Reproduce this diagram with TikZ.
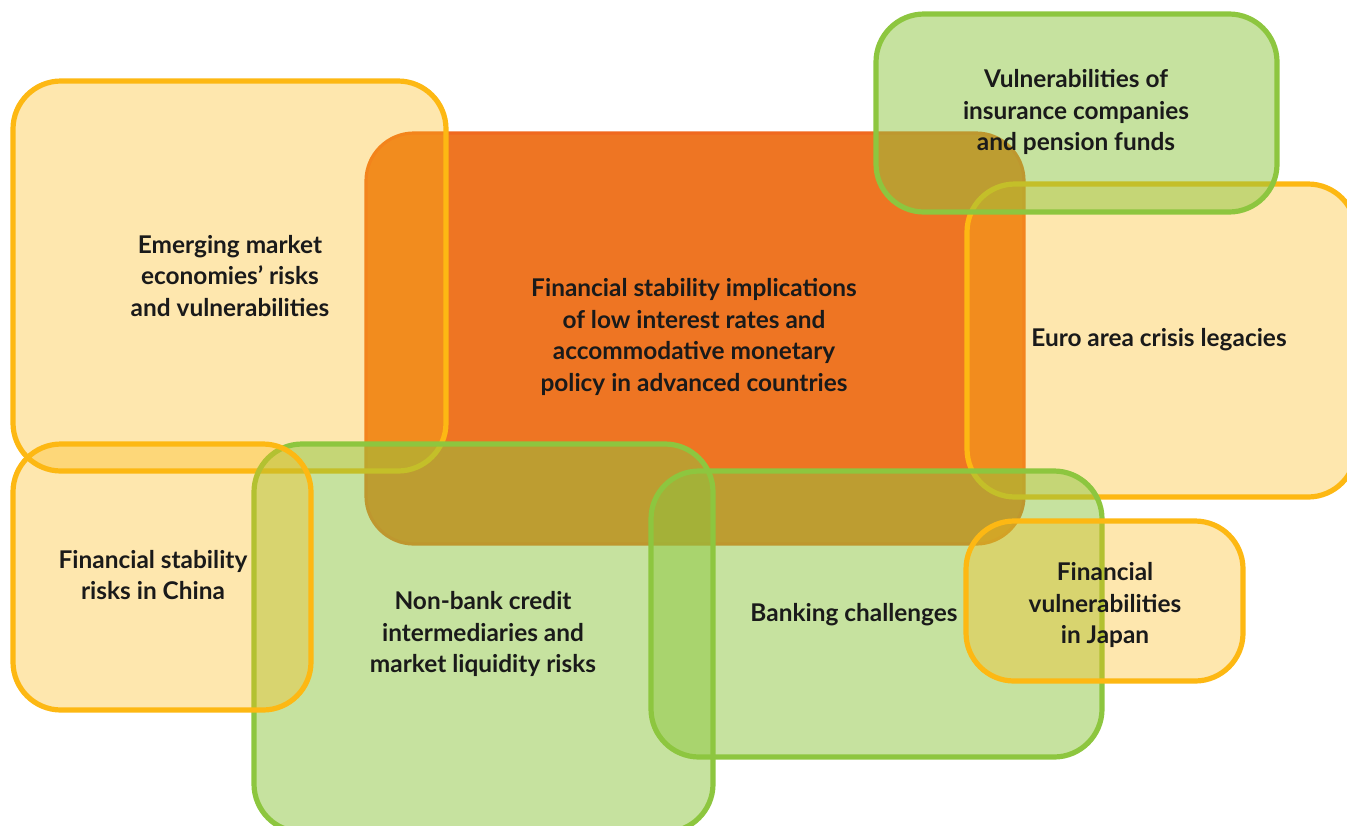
\documentclass[tikz,border=0pt]{standalone}
\usepackage{fontspec}
\setmainfont{Lato}
\definecolor{orangefill}{HTML}{EE7523}
\definecolor{orangeline}{HTML}{F0681F}
\definecolor{yel}{HTML}{FBB917}
\definecolor{yelline}{HTML}{FDB813}
\definecolor{grn}{HTML}{8DC63F}
\definecolor{txt}{HTML}{1A1A1A}
\tikzset{
  ybox/.style={fill=yel, fill opacity=0.35, draw=yelline, draw opacity=1, line width=2.6pt, rounded corners=24pt},
  gbox/.style={fill=grn, fill opacity=0.5, draw=grn, draw opacity=1, line width=2.6pt, rounded corners=24pt},
  obox/.style={fill=orangefill, draw=orangeline, line width=1.6pt, rounded corners=24pt},
  lbl/.style={align=center, text=txt, font=\bfseries\fontsize{12.2}{15.7}\selectfont, inner sep=0pt},
}
\begin{document}
\begin{tikzpicture}[x=0.5pt, y=-0.5pt]
\useasboundingbox (0,0) rectangle (1347,825);
\begin{scope}
\clip (0,0) rectangle (1347,825);
% central orange
\draw[obox] (366,133) rectangle (1024,544);
% emerging markets
\draw[ybox] (13,81) rectangle (446,471);
% non-bank
\draw[gbox] (254,444) rectangle (713,832);
% china
\draw[ybox] (13,444) rectangle (311,710);
% euro area
\draw[ybox] (967,184) rectangle (1356,497);
% insurance
\draw[gbox] (876,14) rectangle (1277,212);
% banking
\draw[gbox] (651,471) rectangle (1102,757);
% japan
\draw[ybox] (966,521) rectangle (1243,681);
\end{scope}
\node[lbl] (central) at (694,337) {Financial stability implications\\of low interest rates and\\accommodative monetary\\policy in advanced countries};
\node[lbl] (emerging) at (230,276) {Emerging market\\economies’ risks\\and vulnerabilities};
\node[lbl] (insurance) at (1076,112) {Vulnerabilities of\\insurance companies\\and pension funds};
\node[lbl] (euro) at (1159,340) {Euro area crisis legacies};
\node[lbl] (china) at (153,575) {Financial stability\\risks in China};
\node[lbl] (nonbank) at (483,634) {Non-bank credit\\intermediaries and\\market liquidity risks};
\node[lbl] (banking) at (854,615) {Banking challenges};
\node[lbl] (japan) at (1105,605) {Financial\\vulnerabilities\\in Japan};
\end{tikzpicture}
\end{document}
